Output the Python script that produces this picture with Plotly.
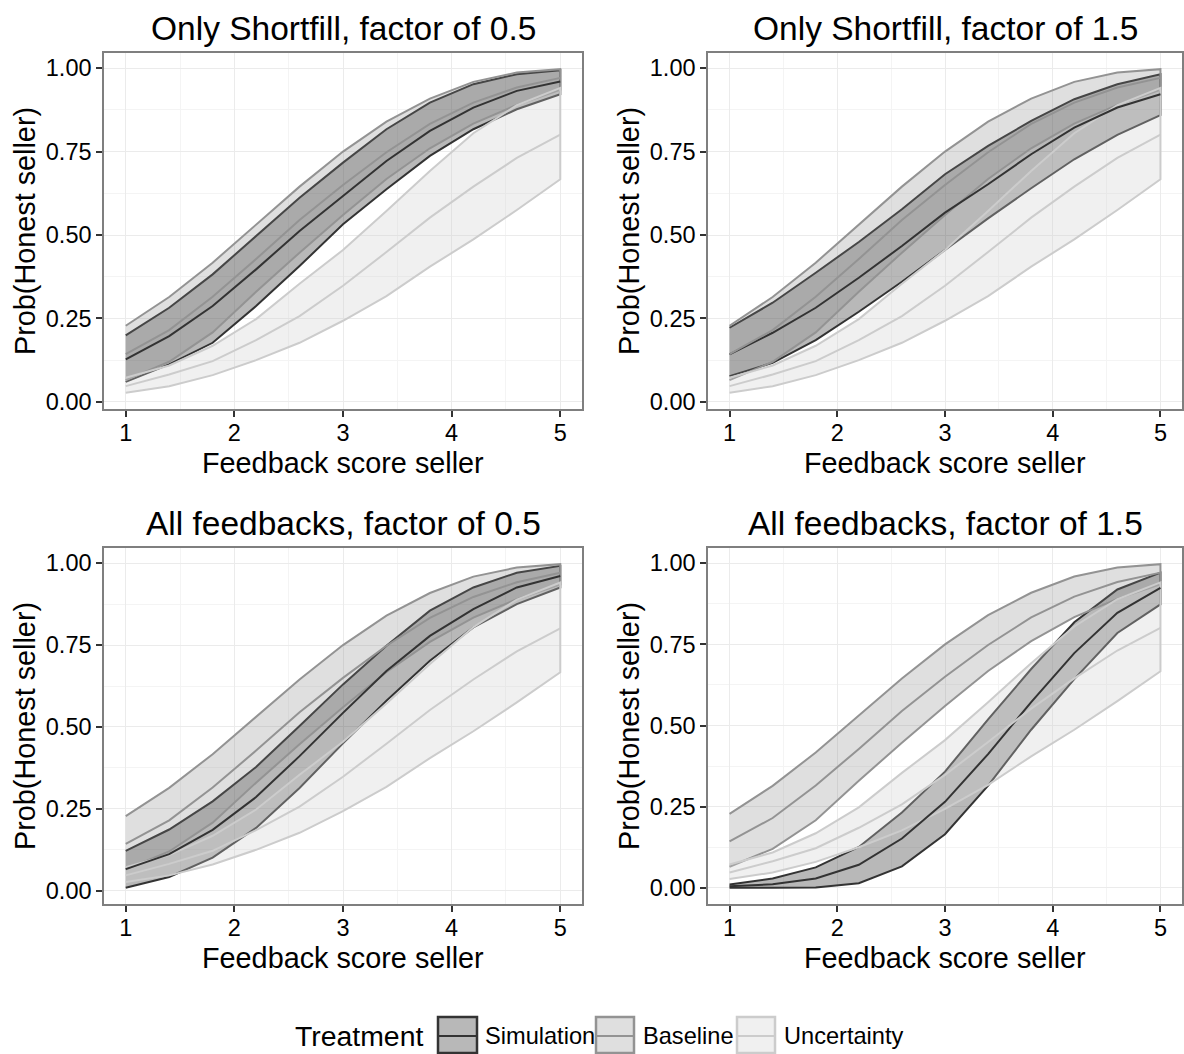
import plotly.graph_objects as go

# ---------------- data ----------------
x_score = [1.0, 1.4, 1.8, 2.2, 2.6, 3.0, 3.4, 3.8, 4.2, 4.6, 5.0]

panel_titles = ["Only Shortfill, factor of 0.5", "Only Shortfill, factor of 1.5",
                "All feedbacks, factor of 0.5", "All feedbacks, factor of 1.5"]
treatments = ["Simulation", "Baseline", "Uncertainty"]

base_lower = [0.065, 0.120, 0.208, 0.330, 0.447, 0.560, 0.668, 0.760, 0.834, 0.890, 0.935]
base_mean = [0.143, 0.215, 0.315, 0.428, 0.545, 0.650, 0.748, 0.833, 0.897, 0.942, 0.971]
base_upper = [0.228, 0.314, 0.417, 0.531, 0.645, 0.750, 0.840, 0.909, 0.959, 0.987, 0.997]

unc_lower = [0.027, 0.047, 0.080, 0.125, 0.177, 0.243, 0.317, 0.405, 0.487, 0.575, 0.667]
unc_mean = [0.047, 0.082, 0.122, 0.185, 0.257, 0.348, 0.449, 0.552, 0.645, 0.731, 0.801]
unc_upper = [0.072, 0.109, 0.168, 0.248, 0.354, 0.455, 0.572, 0.692, 0.805, 0.889, 0.941]

sim_os05_lower = [0.060, 0.112, 0.177, 0.287, 0.407, 0.532, 0.637, 0.737, 0.817, 0.877, 0.922]
sim_os05_mean = [0.127, 0.197, 0.287, 0.397, 0.512, 0.617, 0.722, 0.812, 0.882, 0.932, 0.960]
sim_os05_upper = [0.199, 0.282, 0.382, 0.497, 0.612, 0.717, 0.817, 0.897, 0.952, 0.982, 0.994]

sim_os15_lower = [0.077, 0.117, 0.185, 0.270, 0.360, 0.455, 0.550, 0.640, 0.727, 0.800, 0.859]
sim_os15_mean = [0.142, 0.207, 0.282, 0.372, 0.467, 0.567, 0.652, 0.742, 0.822, 0.882, 0.922]
sim_os15_upper = [0.222, 0.297, 0.387, 0.479, 0.577, 0.682, 0.767, 0.842, 0.907, 0.952, 0.982]

sim_af05_lower = [0.009, 0.042, 0.101, 0.192, 0.314, 0.450, 0.580, 0.702, 0.804, 0.875, 0.926]
sim_af05_mean = [0.066, 0.112, 0.186, 0.286, 0.411, 0.543, 0.671, 0.778, 0.860, 0.926, 0.961]
sim_af05_upper = [0.122, 0.187, 0.273, 0.378, 0.503, 0.630, 0.748, 0.855, 0.926, 0.971, 0.992]

sim_af15_lower = [0.000, 0.000, 0.001, 0.014, 0.066, 0.165, 0.315, 0.487, 0.643, 0.785, 0.873]
sim_af15_mean = [0.005, 0.011, 0.029, 0.071, 0.152, 0.265, 0.412, 0.572, 0.723, 0.847, 0.924]
sim_af15_upper = [0.010, 0.029, 0.063, 0.126, 0.232, 0.358, 0.519, 0.674, 0.818, 0.919, 0.971]

x_ticks = [1, 2, 3, 4, 5]
y_ticks = [0.0, 0.25, 0.5, 0.75, 1.0]

sim_panels = [
    (sim_os05_lower, sim_os05_mean, sim_os05_upper),
    (sim_os15_lower, sim_os15_mean, sim_os15_upper),
    (sim_af05_lower, sim_af05_mean, sim_af05_upper),
    (sim_af15_lower, sim_af15_mean, sim_af15_upper),
]

# ---------------- style ----------------
W, H = 1184, 1054
FONT = "Liberation Sans, Arial, Helvetica, sans-serif"
line_col = {"Simulation": "#333333", "Baseline": "#939393", "Uncertainty": "#cccccc"}
fill_col = {"Simulation": "rgba(51,51,51,0.35)", "Baseline": "rgba(127,127,127,0.25)",
            "Uncertainty": "rgba(204,204,204,0.30)"}

# panel boxes in pixels: (left, right, top, bottom)
boxes = [(104, 582, 53, 409), (708, 1182, 53, 409),
         (104, 582, 548, 904), (708, 1182, 548, 904)]


def px(xp):
    return xp / W


def py(yp):
    return 1 - yp / H


fig = go.Figure()
layout = dict(width=W, height=H, margin=dict(l=0, r=0, t=0, b=0, autoexpand=False),
              paper_bgcolor="white", plot_bgcolor="white", showlegend=False,
              font=dict(family=FONT, color="black"))
annotations = []
shapes = []

for i in range(4):
    sfx = "" if i == 0 else str(i + 1)
    xa, ya = "x" + sfx, "y" + sfx
    series = {
        "Simulation": sim_panels[i],
        "Baseline": (base_lower, base_mean, base_upper),
        "Uncertainty": (unc_lower, unc_mean, unc_upper),
    }
    # ribbons
    for t in treatments:
        lo, me, up = series[t]
        fig.add_trace(go.Scatter(
            x=x_score + x_score[::-1], y=up + lo[::-1], xaxis=xa, yaxis=ya,
            mode="lines", fill="toself", fillcolor=fill_col[t],
            line=dict(color=line_col[t], width=2), hoverinfo="skip", name=t))
    # mean lines
    for t in treatments:
        lo, me, up = series[t]
        fig.add_trace(go.Scatter(
            x=x_score, y=me, xaxis=xa, yaxis=ya, mode="lines",
            line=dict(color=line_col[t], width=2), name=t))

    allv = [v for t in treatments for arr in series[t] for v in arr]
    vmin, vmax = min(allv), max(allv)
    pad = 0.05 * (vmax - vmin)
    l, r, tp, bt = boxes[i]
    axis_common = dict(showline=True, linecolor="#7f7f7f", linewidth=1.5, mirror=True,
                       ticks="outside", ticklen=6, tickwidth=1.5, tickcolor="#333333",
                       showgrid=True, gridcolor="#ebebeb", gridwidth=1.2, zeroline=False,
                       automargin=False,
                       tickfont=dict(size=23.5, color="black", family=FONT))
    layout["xaxis" + sfx] = dict(axis_common, domain=[px(l), px(r)], anchor=ya,
                                 range=[0.8, 5.2], tickvals=x_ticks, ticklabelstandoff=-4,
                                 minor=dict(dtick=0.5, tick0=0.5, showgrid=True,
                                            gridcolor="#f4f4f4", gridwidth=0.8))
    layout["yaxis" + sfx] = dict(axis_common, domain=[py(bt), py(tp)], anchor=xa,
                                 range=[vmin - pad, vmax + pad], tickvals=y_ticks,
                                 tickformat=".2f",
                                 minor=dict(dtick=0.125, tick0=0.125, showgrid=True,
                                            gridcolor="#f4f4f4", gridwidth=0.8))
    cx = (l + r) / 2
    cy = (tp + bt) / 2
    annotations.append(dict(text=panel_titles[i], x=px(cx), y=py(tp - 25), xref="paper",
                            yref="paper", showarrow=False, xanchor="center", yanchor="middle",
                            font=dict(size=33.5, family=FONT, color="black")))
    annotations.append(dict(text="Feedback score seller", x=px(cx), y=py(bt + 54),
                            xref="paper", yref="paper", showarrow=False, xanchor="center",
                            yanchor="middle", font=dict(size=28.8, family=FONT, color="black")))
    annotations.append(dict(text="Prob(Honest seller)", x=px(l - 79), y=py(cy),
                            xref="paper", yref="paper", showarrow=False, xanchor="center",
                            yanchor="middle", textangle=-90,
                            font=dict(size=28.8, family=FONT, color="black")))

# ---------------- legend ----------------
leg_y = 1036
annotations.append(dict(text="Treatment", x=px(359), y=py(leg_y), xref="paper", yref="paper",
                        showarrow=False, xanchor="center", yanchor="middle",
                        font=dict(size=28.4, family=FONT, color="black")))
key_boxes = [(437, 478), (595, 635), (736, 776)]
label_x = [483, 641, 782]
for t, (k0, k1), lx in zip(treatments, key_boxes, label_x):
    shapes.append(dict(type="rect", xref="paper", yref="paper", x0=px(k0 + 1), x1=px(k1 - 1),
                       y0=py(1053), y1=py(1017), fillcolor=fill_col[t],
                       line=dict(color=line_col[t], width=2.5), layer="above"))
    shapes.append(dict(type="line", xref="paper", yref="paper", x0=px(k0 + 1), x1=px(k1 - 1),
                       y0=py(leg_y), y1=py(leg_y), line=dict(color=line_col[t], width=2),
                       layer="above"))
    annotations.append(dict(text=t, x=px(lx), y=py(leg_y), xref="paper", yref="paper",
                            showarrow=False, xanchor="left", yanchor="middle",
                            font=dict(size=23.6, family=FONT, color="black")))

layout["annotations"] = annotations
layout["shapes"] = shapes
fig.update_layout(**layout)
fig.write_html("out.html",
               config={"displayModeBar": False},
               post_script="document.body.style.margin='0';"
                           "document.documentElement.style.overflow='hidden';")
